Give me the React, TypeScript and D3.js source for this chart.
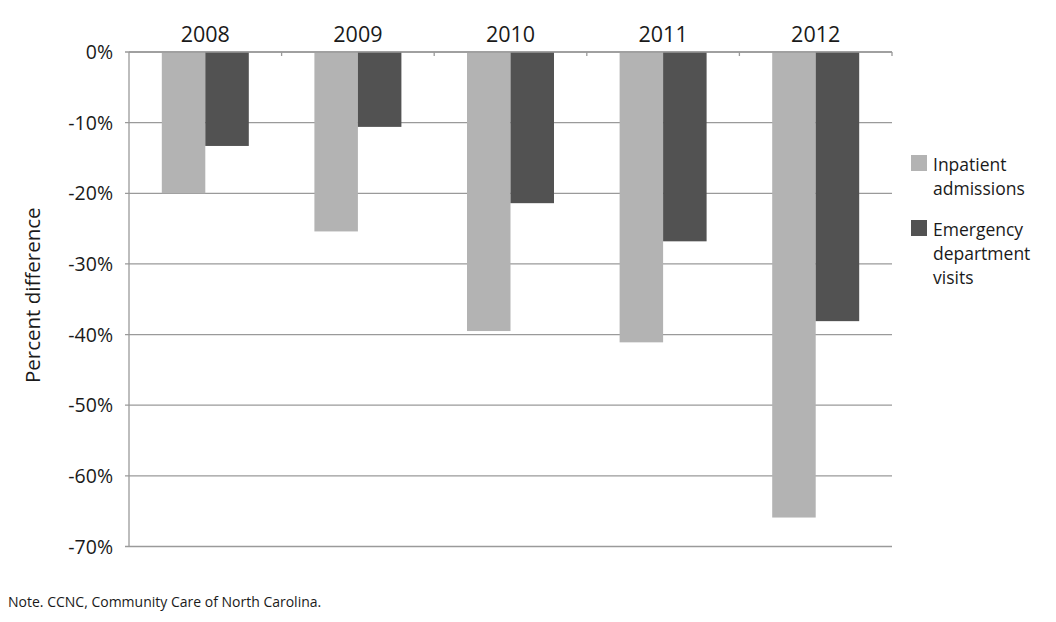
import React from "react";
import * as d3 from "d3";

const years = ["2008", "2009", "2010", "2011", "2012"];
const inpatient = [-20.0, -25.4, -39.5, -41.1, -65.9];
const emergency = [-13.3, -10.6, -21.4, -26.8, -38.1];
const yTicks = [0, -10, -20, -30, -40, -50, -60, -70];
const seriesNames = [["Inpatient", "admissions"], ["Emergency", "department", "visits"]];
const seriesColors = ["#b3b3b3", "#525252"];

const W = 1056;
const H = 622;
const left = 129;
const right = 892;
const top = 52;
const bottom = 546.5;
const font = "'Open Sans', Lato, sans-serif";

export default function App() {
  const x = d3.scaleBand<string>().domain(years).range([left, right]).paddingInner(0).paddingOuter(0);
  const y = d3.scaleLinear().domain([0, -70]).range([top, bottom]);
  const barW = 43.5;
  const series = [inpatient, emergency];

  return (
    <svg width={W} height={H} style={{ position: "absolute", left: 0, top: 0, background: "#fff" }}>
      {/* gridlines and y ticks */}
      {yTicks.map((t) => (
        <g key={t}>
          <line x1={left - 4} x2={right} y1={y(t)} y2={y(t)} stroke="#9a9a9a" strokeWidth={1.3} />
          <text x={113} y={y(t) + 7} textAnchor="end" fontFamily={font} fontSize={19.5} fill="#1a1a1a">
            {t}%
          </text>
        </g>
      ))}
      {/* bars */}
      {series.map((vals, si) =>
        years.map((yr, i) => {
          const cx = (x(yr) as number) + x.bandwidth() / 2;
          const x0 = si === 0 ? cx - barW : cx;
          return (
            <rect
              key={yr + si}
              x={x0}
              y={y(0)}
              width={barW}
              height={y(vals[i]) - y(0)}
              fill={seriesColors[si]}
            />
          );
        })
      )}
      {/* y axis */}
      <line x1={left} x2={left} y1={top} y2={bottom} stroke="#9a9a9a" strokeWidth={1.3} />
      {/* x axis line at 0 with category ticks */}
      <line x1={left} x2={right} y1={y(0)} y2={y(0)} stroke="#9a9a9a" strokeWidth={1.3} />
      {years.map((yr) => (
        <line
          key={"tk" + yr}
          x1={(x(yr) as number) + x.bandwidth()}
          x2={(x(yr) as number) + x.bandwidth()}
          y1={top}
          y2={top + 4}
          stroke="#9a9a9a"
          strokeWidth={1.3}
        />
      ))}
      {/* year labels */}
      {years.map((yr) => (
        <text
          key={"lb" + yr}
          x={(x(yr) as number) + x.bandwidth() / 2}
          y={42}
          textAnchor="middle"
          fontFamily={font}
          fontSize={21.5}
          fill="#1a1a1a"
        >
          {yr}
        </text>
      ))}
      {/* y axis title */}
      <text
        transform={`translate(40, ${(top + bottom) / 2 - 4}) rotate(-90)`}
        textAnchor="middle"
        fontFamily={font}
        fontSize={20.5}
        fill="#1a1a1a"
      >
        Percent difference
      </text>
      {/* legend */}
      {seriesNames.map((lines, si) => {
        const base = si === 0 ? 171 : 236;
        return (
          <g key={"lg" + si}>
            <rect x={911} y={base - 16} width={16} height={16} fill={seriesColors[si]} />
            {lines.map((ln, li) => (
              <text
                key={ln}
                x={933}
                y={base + li * 24}
                fontFamily={font}
                fontSize={17.5}
                fill="#1a1a1a"
              >
                {ln}
              </text>
            ))}
          </g>
        );
      })}
      {/* note */}
      <text x={8} y={607} fontFamily="'Open Sans', sans-serif" fontSize={14} fill="#1a1a1a">
        Note. CCNC, Community Care of North Carolina.
      </text>
    </svg>
  );
}
